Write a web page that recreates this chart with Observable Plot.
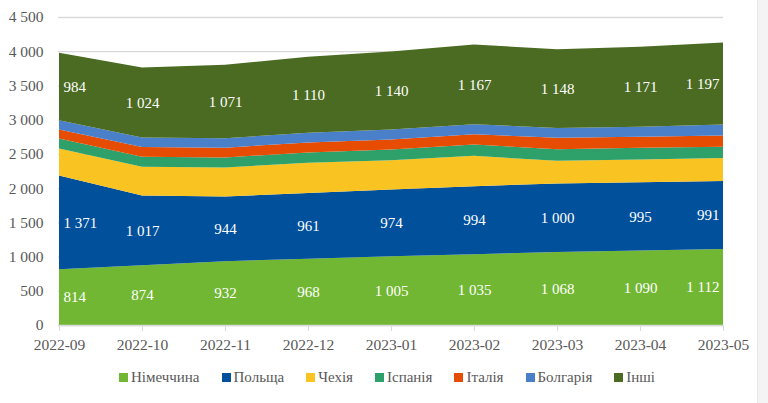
<!DOCTYPE html>
<html>
<head>
<meta charset="utf-8">
<script src="https://cdn.jsdelivr.net/npm/d3@7"></script>
<script src="https://cdn.jsdelivr.net/npm/@observablehq/plot@0.6"></script>
<style>
  html, body { margin: 0; padding: 0; background: #fff; }
  #wrap, #wrap * { font-family: "Liberation Serif", serif !important; }
  #wrap { position: relative; width: 768px; height: 403px; overflow: hidden; background: #fff; }
  #edge { position: absolute; right: 0; top: 0; width: 10px; height: 403px; background: #f4f4f4; border-left: 1px solid #e6e6e6; }
  #legend { position: absolute; left: 0; top: 369px; width: 768px; display: flex; justify-content: center;
            padding-left: 6px; box-sizing: border-box; font-size: 15px; color: #595959; }
  .item { display: flex; align-items: center; margin: 0 11px; }
  .sw { width: 9px; height: 9px; margin-right: 3px; }
</style>
</head>
<body>
<div id="wrap">
  <div id="chart"></div>
  <div id="legend"></div>
  <div id="edge"></div>
</div>
<script>
// Months on the x axis
const months = ["2022-09", "2022-10", "2022-11", "2022-12", "2023-01", "2023-02", "2023-03", "2023-04", "2023-05"];

// Series, bottom to top of the stack
const seriesNames = ["Німеччина", "Польща", "Чехія", "Іспанія", "Італія", "Болгарія", "Інші"];
const seriesColors = ["#72b733", "#00509b", "#f9c322", "#2ea06a", "#e64c02", "#4a80c9", "#4a6b21"];

const germany  = [814, 874, 932, 968, 1005, 1035, 1068, 1090, 1112];
const poland   = [1371, 1017, 944, 961, 974, 994, 1000, 995, 991];
const czechia  = [395, 420, 426, 441, 429, 442, 330, 334, 336];
const spain    = [145, 146, 146, 152, 156, 166, 171, 169, 165];
const italy    = [132, 142, 142, 146, 146, 150, 165, 161, 166];
const bulgaria = [136, 141, 140, 140, 146, 146, 146, 146, 161];
const others   = [984, 1024, 1071, 1110, 1140, 1167, 1148, 1171, 1197];

// Series that carry value labels
const labelledSeries = ["Німеччина", "Польща", "Інші"];

// Y axis ticks
const yTicks = [0, 500, 1000, 1500, 2000, 2500, 3000, 3500, 4000, 4500];

const seriesValues = [germany, poland, czechia, spain, italy, bulgaria, others];
const rows = months.flatMap((m, i) =>
  seriesValues.map((vals, s) => ({month: m, idx: i, country: seriesNames[s], value: vals[i]}))
);

const locale = d3.formatLocale({decimal: ",", thousands: "\u00a0", grouping: [3], currency: ["", ""]});
const fmt = locale.format(",d");

const last = months.length - 1;
const labelFor = (pick) => (d) =>
  labelledSeries.includes(d.country) && pick(d.idx) ? fmt(d.value) : "";

const stackOpts = {x: "month", y: "value", z: "country", order: seriesNames};

const chart = Plot.plot({
  width: 768,
  height: 360,
  marginLeft: 58,
  marginRight: 45,
  marginTop: 17,
  marginBottom: 35,
  x: {type: "point", domain: months, padding: 0, label: null},
  y: {domain: [0, 4500], label: null},
  color: {domain: seriesNames, range: seriesColors},
  style: {fontFamily: "'Liberation Serif', serif", fontSize: "15.5px", color: "#595959", background: "transparent"},
  marks: [
    Plot.gridY(yTicks, {stroke: "#d9d9d9", strokeOpacity: 1, strokeWidth: 1.3}),
    Plot.areaY(rows, Plot.stackY({x: "month", y: "value", fill: "country", order: seriesNames})),
    Plot.ruleY([0], {stroke: "#d9d9d9", strokeWidth: 1.3}),
    Plot.axisX({tickSize: 6, tickPadding: 7, stroke: "#d9d9d9", fill: "#595959", strokeOpacity: 1, fontSize: 15.5}),
    Plot.axisY(yTicks, {tickSize: 0, tickPadding: 15, tickFormat: fmt, fill: "#595959", fontSize: 15.5}),
    // value labels in the middle of each labelled band
    Plot.text(rows, Plot.stackY({...stackOpts, text: labelFor(i => i === 0), fill: "white", textAnchor: "start", dx: 4, fontSize: 15})),
    Plot.text(rows, Plot.stackY({...stackOpts, text: labelFor(i => i > 0 && i < last), fill: "white", fontSize: 15})),
    Plot.text(rows, Plot.stackY({...stackOpts, text: labelFor(i => i === last), fill: "white", textAnchor: "end", dx: -4, fontSize: 15}))
  ]
});
document.getElementById("chart").append(chart);

// Legend row
const legend = document.getElementById("legend");
seriesNames.forEach((name, i) => {
  const item = document.createElement("div");
  item.className = "item";
  const sw = document.createElement("span");
  sw.className = "sw";
  sw.style.background = seriesColors[i];
  const label = document.createElement("span");
  label.textContent = name;
  item.append(sw, label);
  legend.append(item);
});
</script>
</body>
</html>
